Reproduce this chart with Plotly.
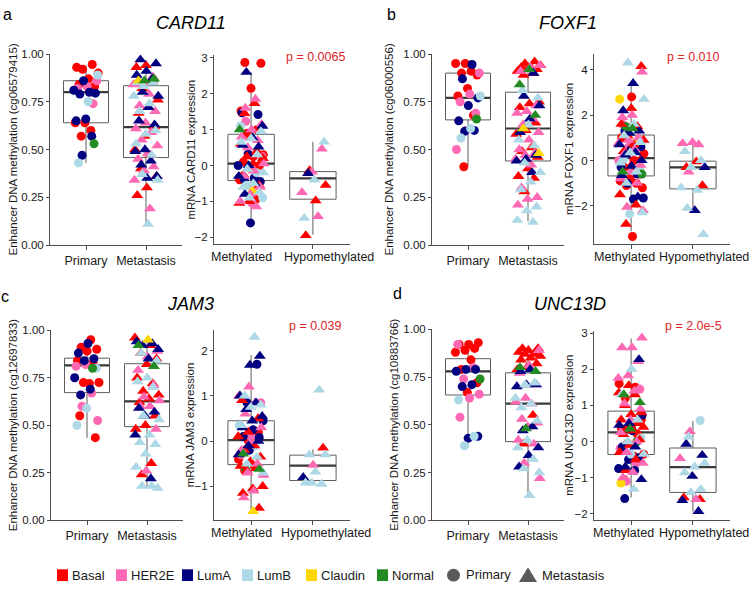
import plotly.graph_objects as go

# ---------------- categories / labels ----------------
cat_pm = ["Primary", "Metastasis"]
cat_mh = ["Methylated", "Hypomethylated"]
genes = ["CARD11", "FOXF1", "JAM3", "UNC13D"]
probes = ["cg06579415", "cg06000556", "cg12697833", "cg10883766"]
pvals = ["p = 0.0065", "p = 0.010", "p = 0.039", "p = 2.0e-5"]
subtype_names = ["Basal", "HER2E", "LumA", "LumB", "Claudin", "Normal"]
subtype_codes = ["B", "H", "A", "L", "C", "N"]
subtype_colors = ["#FF0000", "#FF69B4", "#000080", "#ADD8E6", "#FFD700", "#228B22"]

# ---------------- panel a : CARD11 ----------------
a_pri = dict(B=[0.93, 0.945, 0.92, 0.90, 0.87, 0.84, 0.83, 0.64, 0.64, 0.60, 0.57],
             H=[0.86, 0.83, 0.82, 0.74],
             A=[0.86, 0.81, 0.80, 0.79, 0.795, 0.66, 0.65, 0.57, 0.47],
             L=[0.89, 0.75, 0.43], N=[0.53])
a_met = dict(B=[0.94, 0.93, 0.86, 0.82, 0.76, 0.72, 0.69, 0.62, 0.57, 0.50, 0.47, 0.40, 0.36, 0.30, 0.26],
             H=[0.88, 0.85, 0.84, 0.79, 0.73, 0.70, 0.64, 0.61, 0.59, 0.55, 0.52, 0.48, 0.45, 0.41, 0.39, 0.34, 0.19],
             A=[0.97, 0.95, 0.91, 0.89, 0.87, 0.80, 0.78, 0.72, 0.65, 0.63, 0.50, 0.49, 0.44, 0.42, 0.36, 0.35],
             L=[0.85, 0.85, 0.83, 0.78, 0.74, 0.70, 0.60, 0.58, 0.53, 0.47, 0.37, 0.34, 0.11],
             C=[0.86], N=[0.87, 0.86])
a_meth_pri = dict(B=[2.87, 2.85, 2.15, 1.52, 1.0, 0.9, 0.3, 0.25, 0.1, 0.0, -0.05, -0.4, -0.95],
                  H=[1.23, 0.26, -1.05],
                  A=[1.47, 1.42, 0.32, 0.0, -0.35, -0.40, -0.45, -1.6],
                  L=[1.1, -0.2, -0.55, -0.9], C=[-0.72])
a_meth_met = dict(B=[1.73, 1.45, 0.95, 0.78, 0.6, 0.4, 0.25, 0.2, 0.05, -0.25, -0.55, -1.0, -1.05],
                  H=[1.85, 1.6, 1.15, 1.0, 0.8, 0.7, 0.5, 0.05, -0.15, -0.3, -0.6, -0.8, -1.0, -1.15],
                  A=[2.6, 1.1, 0.78, 0.57, 0.52, 0.0, -0.3, -0.5, -0.8],
                  L=[0.95, 0.75, 0.65, 0.3, -0.1, -0.2, -0.5, -0.6, -0.75, -0.9],
                  N=[1.0])
a_hypo_pri = dict()
a_hypo_met = dict(B=[-0.14, -0.55, -0.98, -1.95], H=[0.46, -0.18, -0.75, -1.42],
                  A=[-0.22], L=[0.66, -0.4, -1.47])
# box stats: [lower whisker, q1, median, q3, upper whisker]
a_pm_stats = [[0.43, 0.64, 0.80, 0.86, 0.94], [0.11, 0.458, 0.617, 0.834, 0.97]]
a_mh_stats = [[-1.61, -0.42, 0.05, 0.87, 2.59], [-1.93, -0.94, -0.36, -0.17, 0.66]]

# ---------------- panel b : FOXF1 ----------------
b_pri = dict(B=[0.95, 0.95, 0.91, 0.90, 0.89, 0.82, 0.78, 0.68, 0.41],
             H=[0.90, 0.79, 0.75, 0.69, 0.60, 0.50],
             A=[0.945, 0.87, 0.77, 0.73, 0.65, 0.60, 0.595],
             L=[0.78, 0.61, 0.56], N=[0.66])
b_met = dict(B=[0.96, 0.95, 0.94, 0.93, 0.93, 0.92, 0.92, 0.91, 0.90, 0.89, 0.75, 0.74, 0.72, 0.64, 0.60,
                0.58, 0.51, 0.49, 0.46, 0.40, 0.36, 0.35, 0.28],
             H=[0.94, 0.93, 0.91, 0.73, 0.70, 0.69, 0.66, 0.63, 0.59, 0.55, 0.50, 0.48, 0.47, 0.45, 0.42,
                0.30, 0.25, 0.24, 0.21],
             A=[0.90, 0.78, 0.73, 0.66, 0.59, 0.47, 0.45, 0.44, 0.38],
             L=[0.81, 0.77, 0.63, 0.55, 0.52, 0.43, 0.38, 0.33, 0.29, 0.20, 0.18, 0.13, 0.12],
             C=[0.61, 0.48], N=[0.92, 0.84, 0.68])
b_meth_pri = dict(B=[2.8, 1.0, 0.7, 0.5, 0.3, 0.0, -0.3, -0.6, -0.8, -0.9, -1.0, -1.1, -1.2, -3.35],
                  H=[1.6, 0.9, 0.6, 0.0, -0.5],
                  A=[1.3, 0.6, 0.5, -0.3, -0.6, -1.0, -1.65, -1.7],
                  L=[0.05, -0.35, -2.35], C=[2.7, 0.8], N=[1.5, -0.6])
b_meth_met = dict(B=[4.15, 2.3, 1.6, 1.5, 1.1, 0.9, 0.7, 0.4, 0.0, -0.3, -1.5, -1.95, -2.8],
                  H=[3.9, 2.0, 1.9, 1.0, 0.9, 0.75, 0.5, 0.3, -0.2, -0.5, -0.8, -1.0, -2.05, -2.2],
                  A=[3.4, 2.2, 1.3, 1.2, 0.7, 0.35, 0.25, 0.0, -0.25, -0.65, -1.6],
                  L=[4.3, 2.7, 1.6, 1.1, 0.8, 0.35, -0.1, -0.5, -1.0, -2.3],
                  N=[1.4, -0.5])
b_hypo_pri = dict()
b_hypo_met = dict(B=[-0.05, -0.3, -1.1], H=[0.8, 0.75, 0.7, -0.5], A=[-0.3, -2.2],
                  L=[0.4, 0.0, -0.3, -1.2, -1.3, -2.1, -3.25])
b_pm_stats = [[0.415, 0.655, 0.77, 0.90, 0.955], [0.125, 0.44, 0.61, 0.80, 0.96]]
b_mh_stats = [[-3.12, -0.68, 0.10, 1.12, 3.40], [-2.12, -1.25, -0.30, -0.03, 0.88]]

# ---------------- panel c : JAM3 ----------------
c_pri = dict(B=[0.95, 0.91, 0.90, 0.89, 0.84, 0.83, 0.725, 0.725, 0.72, 0.55, 0.435],
             H=[0.82, 0.81, 0.67, 0.60, 0.525],
             A=[0.93, 0.88, 0.85, 0.84, 0.75, 0.69, 0.66],
             L=[0.80, 0.59, 0.50], N=[0.80])
c_met = dict(B=[0.96, 0.92, 0.88, 0.85, 0.82, 0.75, 0.72, 0.68, 0.66, 0.64, 0.62, 0.55, 0.50, 0.48, 0.30, 0.24],
             H=[0.89, 0.86, 0.79, 0.71, 0.65, 0.63, 0.60, 0.60, 0.48, 0.26],
             A=[0.94, 0.93, 0.92, 0.90, 0.85, 0.59, 0.57, 0.55, 0.45, 0.22],
             L=[0.88, 0.84, 0.75, 0.73, 0.70, 0.55, 0.53, 0.45, 0.41, 0.40, 0.35, 0.28, 0.18, 0.18, 0.17],
             C=[0.95], N=[0.92, 0.81])
c_meth_pri = dict(B=[0.2, 0.0, -0.4, -0.55, -0.65], H=[0.85, 0.1, -0.3],
                  A=[1.7, 0.85, 0.45, 0.25, 0.1, 0.08, -0.2],
                  L=[0.35, -0.1], N=[-0.62])
c_meth_met = dict(B=[0.9, 0.5, 0.2, 0.1, -0.1, -0.2, -0.35, -0.45, -0.55, -0.6, -0.65, -1.0, -1.05, -1.15, -1.48],
                  H=[1.2, 1.0, 0.85, 0.6, 0.3, 0.0, -0.2, -0.5, -0.7, -0.75, -1.1, -1.25],
                  A=[1.88, 1.68, 1.0, 0.85, 0.7, 0.55, 0.45, 0.3, 0.0, -0.1, -0.3],
                  L=[2.3, 1.0, 0.8, 0.75, 0.35, -0.35, -0.5, -0.7],
                  C=[-1.55], N=[-0.28, -0.62])
c_hypo_pri = dict()
c_hypo_met = dict(B=[-0.15], H=[-0.53], A=[-0.8], L=[1.13, -0.3, -0.3, -0.68, -0.92, -0.95, -0.92])
c_pm_stats = [[0.434, 0.672, 0.815, 0.853, 0.953], [0.167, 0.493, 0.626, 0.824, 0.96]]
c_mh_stats = [[-1.52, -0.52, 0.02, 0.45, 1.9], [-0.95, -0.87, -0.54, -0.31, -0.18]]

# ---------------- panel d : UNC13D ----------------
d_pri = dict(B=[0.93, 0.92, 0.92, 0.90, 0.89, 0.88, 0.84, 0.79, 0.72, 0.67],
             H=[0.92, 0.80, 0.74, 0.66, 0.64, 0.54],
             A=[0.79, 0.79, 0.78, 0.71, 0.70, 0.44, 0.43],
             L=[0.63, 0.44, 0.39], N=[0.74])
d_met = dict(B=[0.90, 0.90, 0.89, 0.88, 0.87, 0.87, 0.86, 0.85, 0.84, 0.82, 0.80, 0.79, 0.55, 0.40],
             H=[0.89, 0.81, 0.77, 0.71, 0.64, 0.62, 0.61, 0.53, 0.51, 0.49, 0.42, 0.40, 0.30, 0.22],
             A=[0.79, 0.78, 0.71, 0.71, 0.70, 0.49, 0.47, 0.38, 0.34, 0.28],
             L=[0.72, 0.71, 0.64, 0.61, 0.59, 0.52, 0.42, 0.38, 0.32, 0.27, 0.25, 0.13],
             N=[0.80, 0.78, 0.48])
d_meth_pri = dict(B=[1.6, 1.5, 1.2, 0.6, 0.4, 0.35, 0.2, -0.05, -0.35, -0.4, -1.05],
                  H=[1.45, 0.5, -0.2, -0.6, -1.1],
                  A=[0.73, 0.3, -0.15, -0.45, -0.5, -0.75, -0.8, -1.58],
                  L=[0.1, -0.35], C=[-1.15], N=[0.0])
d_meth_met = dict(B=[1.55, 1.35, 1.3, 1.0, 0.8, 0.75, 0.6, 0.5, 0.4, 0.4, 0.3, 0.2, 0.05, -0.1, -0.3, -0.5, -0.8],
                  H=[2.87, 2.6, 2.6, 2.22, 1.82, 1.75, 1.4, 1.05, 0.9, 0.6, 0.25, 0.0, -0.3, -0.6, -0.85, -1.0],
                  A=[2.27, 0.5, 0.45, -0.15, -0.7, -1.05],
                  L=[2.0, 1.3, 0.6, 0.0, -0.35, -1.32],
                  N=[1.3, 1.08, 0.35])
d_hypo_pri = dict(L=[0.58])
d_hypo_met = dict(B=[-1.55, -1.6], H=[0.28, -0.47, -1.6], A=[-0.07, -0.38, -0.96, -1.63, -1.93],
                  L=[0.13, -0.6, -0.7, -0.86, -1.32, -1.41])
d_pm_stats = [[0.383, 0.656, 0.78, 0.846, 0.93], [0.13, 0.412, 0.611, 0.772, 0.91]]
d_mh_stats = [[-1.55, -0.36, 0.25, 0.84, 2.85], [-1.94, -1.41, -0.71, -0.18, 0.57]]

# ---------------- layout geometry (pixels) ----------------
W, H = 753, 589
FONT = "Liberation Sans, Arial, sans-serif"
AXC = "#4d4d4d"
TXT = "#1a1a1a"
RED_P = "#E0262B"
COLOR = dict(zip(subtype_codes, subtype_colors))


def px(x):
    return x / W


def py(y):
    return 1 - y / H


# labx: (x of first label centre, x of second label's right edge)
subplots = [
    dict(xd=(50, 182), yd=(49, 244), yr=[0, 1], tv=[0, 0.25, 0.5, 0.75, 1.0], fmt=".2f", cats=cat_pm,
         stats=a_pm_stats, groups=[(0, "circle", a_pri), (1, "triangle-up", a_met)]),
    dict(xd=(214, 350), yd=(50, 243), yr=[-2.19, 3.08], tv=[-2, -1, 0, 1, 2, 3], fmt="d", cats=cat_mh,
         labx=(241, 376), stats=a_mh_stats,
         groups=[(0, "circle", a_meth_pri), (0, "triangle-up", a_meth_met),
                 (1, "circle", a_hypo_pri), (1, "triangle-up", a_hypo_met)]),
    dict(xd=(432, 564), yd=(49, 244), yr=[0, 1], tv=[0, 0.25, 0.5, 0.75, 1.0], fmt=".2f", cats=cat_pm,
         stats=b_pm_stats, groups=[(0, "circle", b_pri), (1, "triangle-up", b_met)]),
    dict(xd=(594, 730), yd=(49, 243), yr=[-3.68, 4.69], tv=[-2, 0, 2, 4], fmt="d", cats=cat_mh,
         labx=(624, 751), stats=b_mh_stats,
         groups=[(0, "circle", b_meth_pri), (0, "triangle-up", b_meth_met),
                 (1, "circle", b_hypo_pri), (1, "triangle-up", b_hypo_met)]),
    dict(xd=(51, 183), yd=(331, 525), yr=[0, 1], tv=[0, 0.25, 0.5, 0.75, 1.0], fmt=".2f", cats=cat_pm,
         stats=c_pm_stats, groups=[(0, "circle", c_pri), (1, "triangle-up", c_met)]),
    dict(xd=(214, 350), yd=(331, 525), yr=[-1.75, 2.45], tv=[-1, 0, 1, 2], fmt="d", cats=cat_mh,
         labx=(241, 373), stats=c_mh_stats,
         groups=[(0, "circle", c_meth_pri), (0, "triangle-up", c_meth_met),
                 (1, "circle", c_hypo_pri), (1, "triangle-up", c_hypo_met)]),
    dict(xd=(432, 564), yd=(330, 525), yr=[0, 1], tv=[0, 0.25, 0.5, 0.75, 1.0], fmt=".2f", cats=cat_pm,
         stats=d_pm_stats, groups=[(0, "circle", d_pri), (1, "triangle-up", d_met)]),
    dict(xd=(594, 730), yd=(332, 525), yr=[-2.18, 3.05], tv=[-2, -1, 0, 1, 2, 3], fmt="d", cats=cat_mh,
         labx=(623, 751), stats=d_mh_stats,
         groups=[(0, "circle", d_meth_pri), (0, "triangle-up", d_meth_met),
                 (1, "circle", d_hypo_pri), (1, "triangle-up", d_hypo_met)]),
]

fig = go.Figure()
layout_axes = {}
annotations = []
shapes = []


def jitter(n, seed):
    # deterministic, evenly spread horizontal offsets (like geom_jitter, width 0.2)
    return [(((k * 0.6180339887) + seed) % 1.0 - 0.5) * 0.42 for k in range(n)]


for i, sp in enumerate(subplots):
    n = "" if i == 0 else str(i + 1)
    xa, ya = "x" + n, "y" + n
    has_lab = "labx" in sp
    layout_axes["xaxis" + n] = dict(
        domain=[px(sp["xd"][0]), px(sp["xd"][1])], range=[-0.6, 1.6], anchor=ya,
        tickvals=[0, 1], ticktext=sp["cats"], showticklabels=not has_lab, tickangle=0,
        showline=True, linecolor=AXC, linewidth=1,
        ticks="outside", ticklen=4, tickcolor=AXC, showgrid=False, zeroline=False,
        tickfont=dict(size=12.5, color=TXT, family=FONT), fixedrange=True)
    layout_axes["yaxis" + n] = dict(
        domain=[py(sp["yd"][1]), py(sp["yd"][0])], range=sp["yr"], anchor=xa,
        tickvals=sp["tv"], tickformat=sp["fmt"], showline=True, linecolor=AXC, linewidth=1,
        ticks="outside", ticklen=3, tickcolor=AXC, showgrid=False, zeroline=False,
        tickfont=dict(size=11.5, color=TXT, family=FONT), fixedrange=True)
    if has_lab:
        ly = py(sp["yd"][1] + 13)
        annotations.append(dict(text=sp["cats"][0], x=px(sp["labx"][0]), y=ly, xref="paper", yref="paper",
                                showarrow=False, font=dict(size=12.5, color=TXT, family=FONT),
                                xanchor="center", yanchor="middle"))
        annotations.append(dict(text=sp["cats"][1], x=px(sp["labx"][1]), y=ly, xref="paper", yref="paper",
                                showarrow=False, font=dict(size=12.5, color=TXT, family=FONT),
                                xanchor="right", yanchor="middle"))

    st = sp["stats"]
    fig.add_trace(go.Box(
        x=[0, 1], lowerfence=[s[0] for s in st], q1=[s[1] for s in st], median=[s[2] for s in st],
        q3=[s[3] for s in st], upperfence=[s[4] for s in st], width=0.75, whiskerwidth=0,
        fillcolor="rgba(0,0,0,0)", line=dict(color="#5e5e5e", width=1), boxpoints=False,
        xaxis=xa, yaxis=ya, showlegend=False, hoverinfo="skip"))
    mx, my = [], []
    for c, s in enumerate(st):
        mx += [c - 0.375, c + 0.375, None]
        my += [s[2], s[2], None]
    fig.add_trace(go.Scatter(x=mx, y=my, mode="lines", line=dict(color="#3a3a3a", width=2.2),
                             xaxis=xa, yaxis=ya, showlegend=False, hoverinfo="skip"))

    for g, (cat, sym, data) in enumerate(sp["groups"]):
        ys, cs = [], []
        for code in subtype_codes:
            for v in data.get(code, []):
                ys.append(v)
                cs.append(COLOR[code])
        if not ys:
            continue
        jx = jitter(len(ys), 0.13 * (i + 1) + 0.37 * g)
        xs = [cat + d for d in jx]
        fig.add_trace(go.Scatter(
            x=xs, y=ys, mode="markers", xaxis=xa, yaxis=ya, showlegend=False, cliponaxis=False,
            marker=dict(color=cs, symbol=sym, size=9 if sym == "circle" else 10.5, line=dict(width=0)),
            hoverinfo="y"))

# panel letters, gene titles, p-values
letters = [("a", 8, 9), ("b", 391, 9), ("c", 5, 297), ("d", 397, 293)]
for t, x, y in letters:
    annotations.append(dict(text=t, x=px(x), y=py(y), xref="paper", yref="paper", showarrow=False,
                            font=dict(size=16, color="#000", family=FONT), xanchor="center", yanchor="middle"))
title_pos = [(191, 17), (568, 17), (190, 304), (570, 304)]
for g, (x, y) in zip(genes, title_pos):
    annotations.append(dict(text="<i>%s</i>" % g, x=px(x), y=py(y), xref="paper", yref="paper",
                            showarrow=False, font=dict(size=18, color="#000", family=FONT),
                            xanchor="center", yanchor="middle"))
p_pos = [(315, 52), (693, 52), (315, 327), (693, 327)]
for p, (x, y) in zip(pvals, p_pos):
    annotations.append(dict(text=p, x=px(x), y=py(y), xref="paper", yref="paper", showarrow=False,
                            font=dict(size=12.5, color=RED_P, family=FONT), xanchor="center", yanchor="middle"))

# y-axis titles
ytitle_specs = []
for k in range(4):
    ytitle_specs.append(("Enhancer DNA methylation (%s)" % probes[k], subplots[2 * k]))
    ytitle_specs.append(("mRNA %s expression" % genes[k], subplots[2 * k + 1]))
ytitle_x = [13, 191, 389, 569, 13, 190, 394, 569]
for (txt, sp), x in zip(ytitle_specs, ytitle_x):
    yc = (sp["yd"][0] + sp["yd"][1]) / 2
    annotations.append(dict(text=txt, x=px(x), y=py(yc), xref="paper", yref="paper", showarrow=False,
                            textangle=-90, font=dict(size=11.5, color=TXT, family=FONT),
                            xanchor="center", yanchor="middle"))

# legend (drawn manually)
leg_y = 581
sq_x = [57, 116, 182, 242, 306, 377]
for name, col, x in zip(subtype_names, subtype_colors, sq_x):
    shapes.append(dict(type="rect", xref="paper", yref="paper", x0=px(x), x1=px(x + 11),
                       y0=py(leg_y + 6), y1=py(leg_y - 6), fillcolor=col, line=dict(width=0)))
    annotations.append(dict(text=name, x=px(x + 13), y=py(leg_y), xref="paper", yref="paper",
                            showarrow=False, font=dict(size=13, color=TXT, family=FONT),
                            xanchor="left", yanchor="middle"))
shapes.append(dict(type="circle", xref="paper", yref="paper", x0=px(447), x1=px(460),
                   y0=py(leg_y + 6.5), y1=py(leg_y - 6.5), fillcolor="#5a5a5a", line=dict(width=0)))
annotations.append(dict(text="Primary", x=px(464), y=py(leg_y - 1), xref="paper", yref="paper",
                        showarrow=False, font=dict(size=13, color=TXT, family=FONT),
                        xanchor="left", yanchor="middle"))
shapes.append(dict(type="path", xref="paper", yref="paper",
                   path="M %f,%f L %f,%f L %f,%f Z" % (px(519), py(leg_y + 7), px(537), py(leg_y + 7),
                                                       px(528), py(leg_y - 8)),
                   fillcolor="#5a5a5a", line=dict(width=0)))
annotations.append(dict(text="Metastasis", x=px(540), y=py(leg_y), xref="paper", yref="paper",
                        showarrow=False, font=dict(size=13, color=TXT, family=FONT),
                        xanchor="left", yanchor="middle"))

fig.update_layout(
    width=W, height=H, margin=dict(l=0, r=0, t=0, b=0),
    paper_bgcolor="white", plot_bgcolor="white", showlegend=False,
    font=dict(family=FONT, color=TXT),
    annotations=annotations, shapes=shapes, **layout_axes)

# remove the default page margin so the figure sits at the window's top-left corner
fig.write_html("out.html", config={"displayModeBar": False},
               post_script="document.body.style.margin='0';document.body.style.overflow='hidden';")
